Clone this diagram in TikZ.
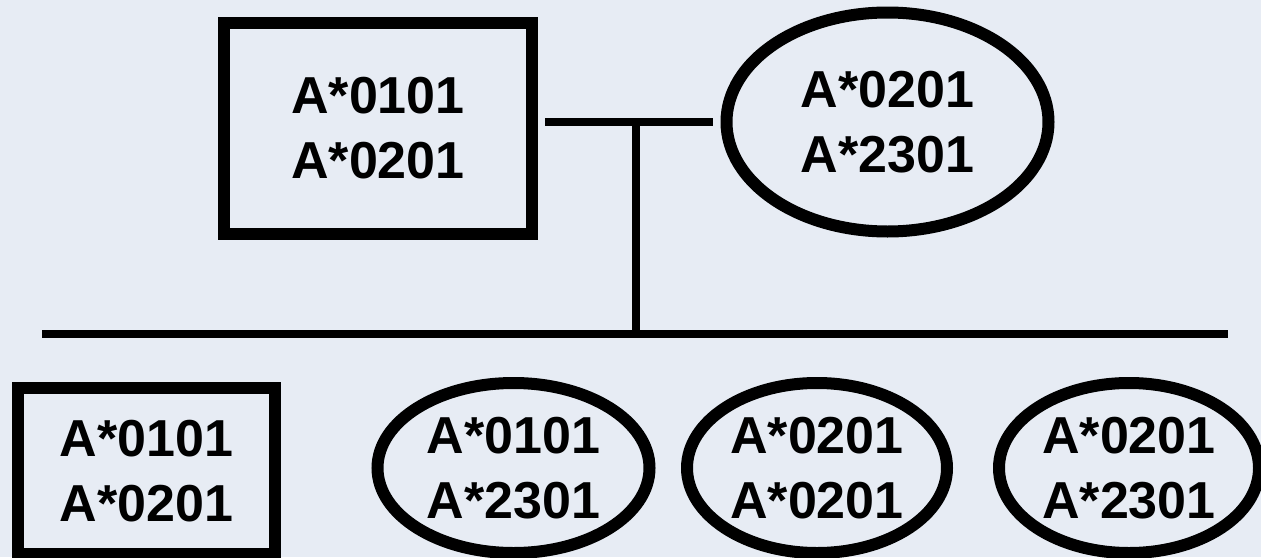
\documentclass[tikz,border=0pt]{standalone}
\usepackage{fontspec}
\setmainfont{Liberation Sans}
\usetikzlibrary{shapes.geometric}
\definecolor{bgc}{HTML}{E7ECF4}
\tikzset{
  lbl/.style={align=center, font=\fontsize{52}{65}\selectfont\bfseries, inner sep=0pt, line width=12pt, draw=black},
  male/.style={lbl, rectangle},
  female/.style={lbl, ellipse},
  link/.style={line width=8pt, black, line cap=butt}
}
\begin{document}
\begin{tikzpicture}[x=1pt,y=-1pt]
\fill[bgc] (0,0) rectangle (1261,557);
\useasboundingbox (0,0) rectangle (1261,557);
% parents
\node[male, minimum width=308pt, minimum height=211pt] (father) at (378,128.5) {A*0101\\A*0201};
\node[female, minimum width=322pt, minimum height=219pt] (mother) at (887.5,122) {A*0201\\A*2301};
% children
\node[male, minimum width=257pt, minimum height=166pt] (c1) at (146.5,471) {A*0101\\A*0201};
\node[female, minimum width=272pt, minimum height=170pt] (c2) at (513.5,468) {A*0101\\A*2301};
\node[female, minimum width=260pt, minimum height=170pt] (c3) at (817,468) {A*0201\\A*0201};
\node[female, minimum width=260pt, minimum height=170pt] (c4) at (1129,468) {A*0201\\A*2301};
% connectors
\coordinate (mid) at (635.5,122);
\coordinate (sib) at (635.5,334);
\coordinate (sibL) at (42,334);
\coordinate (sibR) at (1228,334);
\draw[link, shorten <=7pt, shorten >=8pt] (father.east |- mother.west) -- (mother.west);
\draw[link] (mid) -- (sib);
\draw[link] (sibL) -- (sibR);
\end{tikzpicture}
\end{document}
